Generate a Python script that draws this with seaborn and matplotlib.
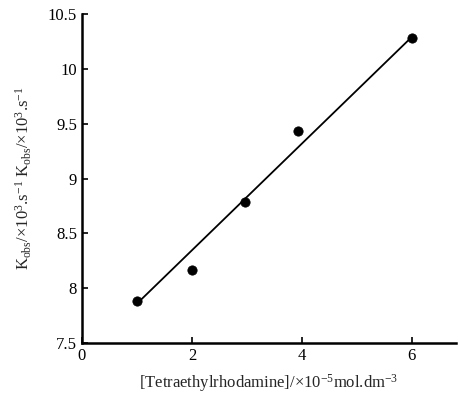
import numpy as np
import pandas as pd
import matplotlib
matplotlib.use("Agg")
import matplotlib.pyplot as plt
import seaborn as sns

conc = [1.0, 2.0, 2.97, 3.93, 6.0]
kobs = [7.88, 8.17, 8.79, 9.43, 10.28]
fit_x = [1.0, 6.0]
fit_y = [7.86, 10.29]
xticks = [0, 2, 4, 6]
yticks = [7.5, 8, 8.5, 9, 9.5, 10, 10.5]
ytick_labels = ["7.5", "8", "8.5", "9", "9.5", "10", "10.5"]

sns.set_style("ticks")
plt.rcParams['font.family'] = ['Liberation Serif', 'DejaVu Serif']
plt.rcParams['mathtext.fontset'] = 'custom'
plt.rcParams['mathtext.rm'] = 'Liberation Serif'
plt.rcParams['mathtext.it'] = 'Liberation Serif'

df = pd.DataFrame({'conc': conc, 'kobs': kobs})

fig, ax = plt.subplots(figsize=(4.58, 3.99), dpi=100)
fig.subplots_adjust(left=0.179, right=0.995, bottom=0.14, top=0.965)

sns.lineplot(x=fit_x, y=fit_y, color='black', lw=1.3, ax=ax)
sns.scatterplot(data=df, x='conc', y='kobs', color='black', s=45,
                edgecolor='black', zorder=3, ax=ax)

ax.set_xlim(0, 6.8)
ax.set_ylim(7.5, 10.5)
ax.set_xticks(xticks)
ax.set_yticks(yticks)
ax.set_yticklabels(ytick_labels)
ax.tick_params(direction='in', length=4, width=1.2, labelsize=12, colors='black')
sns.despine(ax=ax)
for s in ['left', 'bottom']:
    ax.spines[s].set_linewidth(1.8)
    ax.spines[s].set_color('black')

ax.set_xlabel('[Tetraethylrhodamine]/\u00d710$^{-5}$mol.dm$^{-3}$', fontsize=12, labelpad=6)
ax.set_ylabel('K$_{\\mathrm{obs}}$/\u00d710$^{3}$.s$^{-1}$ K$_{\\mathrm{obs}}$/\u00d710$^{3}$.s$^{-1}$',
              fontsize=12, labelpad=10)

plt.savefig('out.png', dpi=100)
